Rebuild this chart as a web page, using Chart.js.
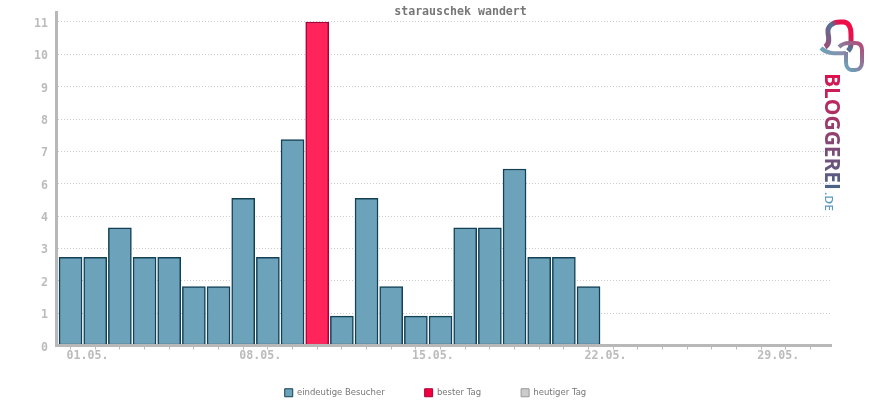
<!DOCTYPE html>
<html>
<head>
<meta charset="utf-8">
<title>starauschek wandert</title>
<script src="https://cdn.jsdelivr.net/npm/chart.js@4"></script>
<style>
    body { margin: 0; background: #fff; }
    #wrap { position: relative; width: 870px; height: 400px; }
    #logo { position: absolute; left: 0; top: 0; }
</style>
</head>
<body>
<div id="wrap">
    <canvas id="chart" width="870" height="400"></canvas>
    <svg id="logo" width="870" height="400">
        <defs>
            <linearGradient id="textGrad" gradientUnits="userSpaceOnUse" x1="0" y1="0" x2="117" y2="0">
                <stop offset="0" stop-color="#e0104e"/>
                <stop offset="0.5" stop-color="#94406f"/>
                <stop offset="1" stop-color="#4a6488"/>
            </linearGradient>
            <linearGradient id="bubbleGrad" gradientUnits="userSpaceOnUse" x1="824" y1="46" x2="851" y2="24">
                <stop offset="0" stop-color="#a04a78"/>
                <stop offset="0.55" stop-color="#4f7494"/>
                <stop offset="0.75" stop-color="#e8104c"/>
                <stop offset="1" stop-color="#f50a44"/>
            </linearGradient>
            <linearGradient id="tailGrad" gradientUnits="userSpaceOnUse" x1="820" y1="50" x2="848" y2="52">
                <stop offset="0" stop-color="#6ca2ba"/>
                <stop offset="1" stop-color="#8f8aa8"/>
            </linearGradient>
            <linearGradient id="loopGrad" gradientUnits="userSpaceOnUse" x1="844" y1="66" x2="864" y2="46">
                <stop offset="0" stop-color="#6ca2ba"/>
                <stop offset="1" stop-color="#b04a78"/>
            </linearGradient>
        </defs>
        <path d="M825 47 C830 44 829 38 828 33 C827 26 833 22 840 22 L843 22 C849 22 851 28 851 34 L851 44 C851 47 850 49 848 51" fill="none" stroke="url(#bubbleGrad)" stroke-width="5"/>
        <path d="M821 48 C826 53 832 54 846 53" fill="none" stroke="url(#tailGrad)" stroke-width="4"/>
        <path d="M839 47 C842 44 846 43 849 43 L855 43 C860 43 862 46 862 50 L862 62 C862 67 859 70 855 70 L852 70 C848 70 846 66 846 62 L846 52" fill="none" stroke="url(#loopGrad)" stroke-width="4"/>
        <text transform="translate(825,73) rotate(90)" font-family="Open Sans" font-size="21" font-weight="700" fill="url(#textGrad)" textLength="117" lengthAdjust="spacingAndGlyphs">BLOGGEREI</text>
        <text transform="translate(825,192) rotate(90)" font-family="Open Sans" font-size="10" font-weight="600" fill="#5a9ab8" textLength="19" lengthAdjust="spacingAndGlyphs">.DE</text>
    </svg>
</div>
<script>
// visitors per day, May
const days = [1, 2, 3, 4, 5, 6, 7, 8, 9, 10, 11, 12, 13, 14, 15, 16, 17, 18, 19, 20, 21, 22];
const visitors = [3, 3, 4, 3, 3, 2, 2, 5, 3, 7, 11, 1, 5, 2, 1, 1, 4, 4, 6, 3, 3, 2];
const bestDay = 11;
const tickDays = [1, 2, 3, 4, 5, 6, 7, 8, 9, 10, 11, 12, 13, 14, 15, 16, 17, 18, 19, 20, 21, 22, 23, 24, 25, 26, 27, 28, 29, 30, 31];
const labelDays = { 1: '01.05.', 8: '08.05.', 15: '15.05.', 22: '22.05.', 29: '29.05.' };
const yTicks = [0, 1.1, 2.2, 3.3, 4.4, 5.5, 6.6, 7.7, 8.8, 9.9, 11];
const legendNames = ['eindeutige Besucher', 'bester Tag', 'heutiger Tag'];
const chartTitle = 'starauschek wandert';

const monoFont = { family: '"DejaVu Sans Mono"', size: 11.6, weight: 'bold' };

// the title sits right of centre, Chart.js cannot place it there
const titlePlugin = {
    id: 'offsetTitle',
    afterLayout(chart) {
        // x labels get clipped to the axis box, legend is centred too far left
        chart.scales.x.bottom = chart.scales.x.top + 25;
        chart.legend.left += 20;
        chart.legend.right += 20;
    },
    afterDraw(chart) {
        const ctx = chart.ctx;
        ctx.save();
        ctx.font = 'bold 11.6px "DejaVu Sans Mono"';
        ctx.fillStyle = '#777';
        ctx.textAlign = 'center';
        ctx.textBaseline = 'middle';
        ctx.fillText(chartTitle, 460.5, 12);
        ctx.restore();
    }
};

new Chart(document.getElementById('chart'), {
    type: 'bar',
    data: {
        datasets: [{
            data: days.map((d, i) => ({ x: d, y: visitors[i] })),
            backgroundColor: days.map(d => d === bestDay ? '#ff2459' : '#6ca2ba'),
            borderColor: days.map(d => d === bestDay ? '#a8003a' : '#134055'),
            borderWidth: 1.5,
            borderSkipped: false,
            barThickness: 23
        }]
    },
    options: {
        responsive: false,
        animation: false,
        // legend padding also counts for its height, so it hangs off the bottom
        layout: { padding: { top: 12, right: 39, left: 0, bottom: -7 } },
        scales: {
            x: {
                type: 'linear',
                offset: false,
                min: 0.41,
                max: 31.83,
                afterBuildTicks: axis => { axis.ticks = tickDays.map(v => ({ value: v })); },
                afterFit: axis => { axis.height = 3; },
                grid: { offset: false, drawOnChartArea: false, drawTicks: true, tickLength: 4, color: '#bbb' },
                border: { color: '#b8b8b8', width: 3, z: 1 },
                ticks: {
                    autoSkip: false,
                    maxRotation: 0,
                    font: monoFont,
                    color: '#bbb',
                    padding: 0,
                    labelOffset: 17,
                    callback: v => labelDays[v] || ''
                }
            },
            y: {
                min: 0,
                max: 11.34,
                afterBuildTicks: axis => { axis.ticks = yTicks.map(v => ({ value: v })); },
                afterFit: axis => {
                    axis.width = 56;
                    axis.paddingTop = 0;
                    axis.paddingBottom = 0;
                },
                grid: { drawTicks: false, color: '#ccc' },
                border: { color: '#b8b8b8', width: 3, z: 1, dash: [1, 2] },
                ticks: {
                    autoSkip: false,
                    font: monoFont,
                    color: '#bbb',
                    padding: 8,
                    labelOffset: 2,
                    callback: v => String(Math.round(v))
                }
            }
        },
        plugins: {
            title: { display: false },
            tooltip: { enabled: false },
            legend: {
                position: 'bottom',
                labels: {
                    font: { family: '"DejaVu Sans"', size: 8.5 },
                    color: '#777',
                    boxWidth: 8,
                    boxHeight: 8,
                    padding: 40,
                    generateLabels: () => legendNames.map((name, i) => ({
                        text: name,
                        fillStyle: ['#6ca2ba', '#f0003e', '#ccc'][i],
                        strokeStyle: ['#134055', '#a8003a', '#999'][i],
                        lineWidth: 1,
                        fontColor: '#777'
                    }))
                }
            }
        }
    },
    plugins: [titlePlugin]
});
</script>
</body>
</html>
